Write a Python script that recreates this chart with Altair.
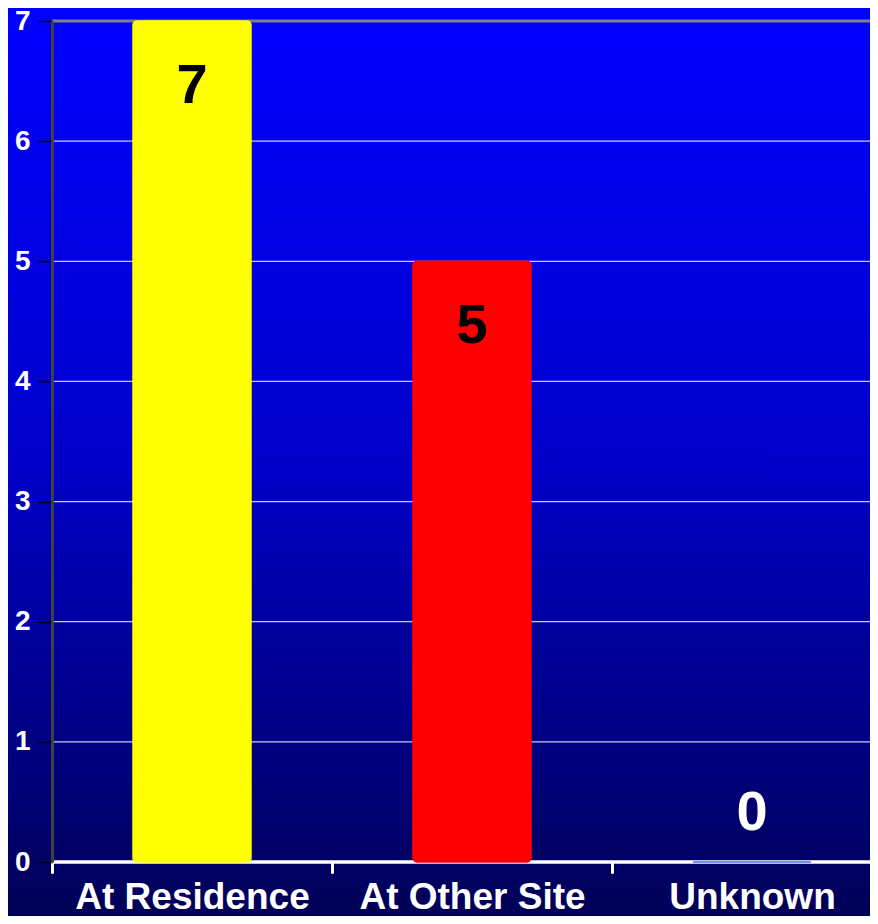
import altair as alt
import pandas as pd

categories = ["At Residence", "At Other Site", "Unknown"]
values = [7, 5, 0]
bar_colors = ["#FFFF00", "#FF0000", "#4A6EE0"]
grid_values = [1, 2, 3, 4, 5, 6]
top_value = [7]
base_value = [0]

FONT = "Liberation Sans"
W, H = 818, 841

df = pd.DataFrame({"cat": categories, "value": values})
grid_df = pd.DataFrame({"value": grid_values})
top_df = pd.DataFrame({"value": top_value})
base_df = pd.DataFrame({"value": base_value})
bg_df = pd.DataFrame({"k": [0]})

yscale = alt.Scale(domain=[0, 7], nice=False, zero=True)
xscale = alt.Scale(domain=categories, range=[0, 840], paddingInner=0, paddingOuter=0)

yaxis = alt.Axis(title=None, values=[0, 1, 2, 3, 4, 5, 6, 7], grid=False,
                 labelColor="white", labelFont=FONT, labelFontSize=28,
                 labelFontWeight="bold", labelPadding=8, domainColor="#404040",
                 domainWidth=3, tickColor="black", tickWidth=1.5, tickSize=14,
                 zindex=1)

bg = alt.Chart(bg_df).mark_rect(
    fill=alt.LinearGradient(
        gradient="linear", x1=0, y1=0, x2=0, y2=1,
        stops=[
            alt.GradientStop(offset=0, color="#0000FF"),
            alt.GradientStop(offset=0.5, color="#0000C8"),
            alt.GradientStop(offset=1, color="#000052"),
        ],
    )
).encode(
    x=alt.value(-44), x2=alt.value(W + 30),
    y=alt.value(-13), y2=alt.value(H + 70),
)

grid = alt.Chart(grid_df).mark_rule(color="#C8C8F4", strokeWidth=1.2).encode(
    y=alt.Y("value:Q", scale=yscale, axis=yaxis),
    x=alt.value(0), x2=alt.value(840),
)

top = alt.Chart(top_df).mark_rule(color="#808080", strokeWidth=3).encode(
    y=alt.Y("value:Q", scale=yscale, axis=yaxis),
    x=alt.value(0), x2=alt.value(840),
)

base = alt.Chart(base_df).mark_rule(color="white", strokeWidth=3.5).encode(
    y=alt.Y("value:Q", scale=yscale, axis=yaxis),
    x=alt.value(0), x2=alt.value(840),
)

colscale = alt.Scale(domain=categories, range=bar_colors)

bars = alt.Chart(df).mark_bar(cornerRadius=4, strokeWidth=1.5,
                              width=alt.RelativeBandSize(0.4214)).encode(
    x=alt.X("cat:N", scale=xscale, sort=categories,
            axis=alt.Axis(title=None, labelAngle=0, labelColor="white", labelFont=FONT,
                          labelFontSize=37, labelFontWeight="bold", labelPadding=7,
                          domain=False, tickColor="white",
                          tickWidth=3, tickSize=10, tickCap="round", tickBand="extent",
                          zindex=1, labelLimit=400)),
    y=alt.Y("value:Q", scale=yscale, axis=yaxis),
    fill=alt.Color("cat:N", scale=colscale, legend=None),
    stroke=alt.Color("cat:N", scale=colscale, legend=None),
)

labels_in = alt.Chart(df).transform_filter("datum.value > 0").mark_text(
    font=FONT, fontSize=56, fontWeight="bold", color="black", baseline="middle", dy=65
).encode(
    x=alt.X("cat:N", scale=xscale, sort=categories),
    y=alt.Y("value:Q", scale=yscale, axis=yaxis),
    text=alt.Text("value:Q"),
)

labels_zero = alt.Chart(df).transform_filter("datum.value == 0").mark_text(
    font=FONT, fontSize=56, fontWeight="bold", color="white", baseline="middle", dy=-49
).encode(
    x=alt.X("cat:N", scale=xscale, sort=categories),
    y=alt.Y("value:Q", scale=yscale, axis=yaxis),
    text=alt.Text("value:Q"),
)

chart = alt.layer(bg, grid, top, base, bars, labels_in, labels_zero).properties(
    width=W, height=H,
    autosize=alt.AutoSizeParams(type="none"),
    padding={"left": 44, "top": 13, "right": 0, "bottom": 54},
    background="#0000B8",
).configure_view(strokeWidth=0)

chart.save("out.html", embed_options={"renderer": "svg", "actions": False})
